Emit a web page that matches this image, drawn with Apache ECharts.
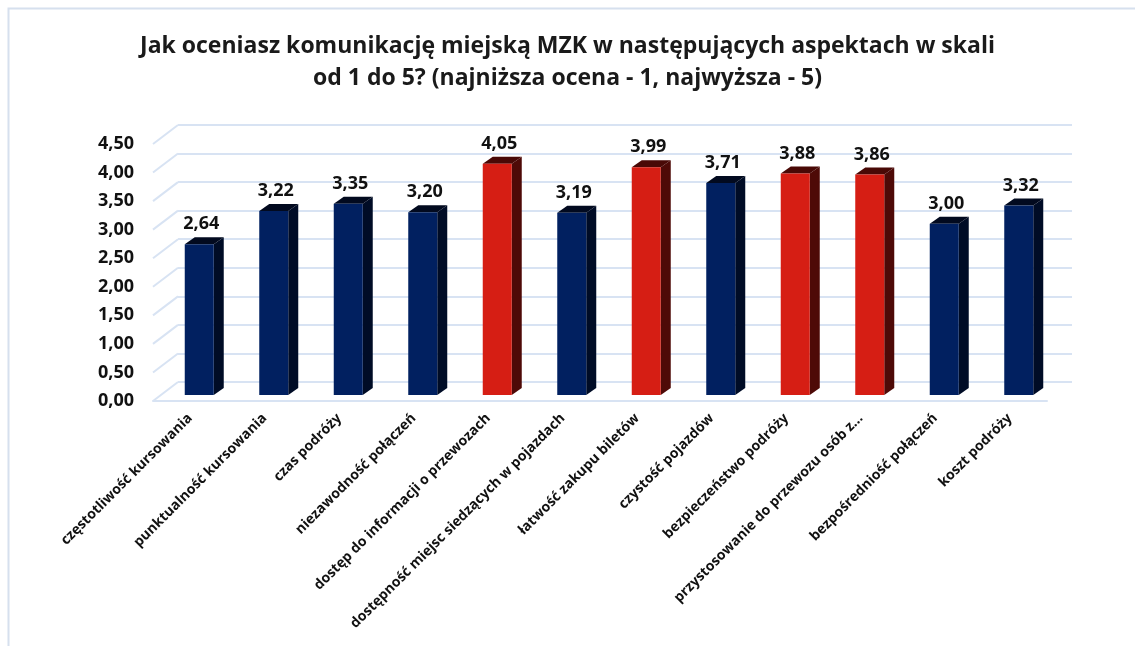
<!DOCTYPE html>
<html>
<head>
<meta charset="utf-8">
<script src="https://cdn.jsdelivr.net/npm/echarts@6.0.0/dist/echarts.min.js"></script>
<style>
  html, body { margin: 0; padding: 0; background: #fff; }
  #chart { width: 1135px; height: 646px; }
</style>
</head>
<body>
<div id="chart"></div>
<script>
// dane z wykresu
const categories = [
  'częstotliwość kursowania',
  'punktualność kursowania',
  'czas podróży',
  'niezawodność połączeń',
  'dostęp do informacji o przewozach',
  'dostępność miejsc siedzących w pojazdach',
  'łatwość zakupu biletów',
  'czystość pojazdów',
  'bezpieczeństwo podróży',
  'przystosowanie do przewozu osób z…',
  'bezpośredniość połączeń',
  'koszt podróży'
];
const values = [2.64, 3.22, 3.35, 3.20, 4.05, 3.19, 3.99, 3.71, 3.88, 3.86, 3.00, 3.32];
// najwyżej oceniane (wyróżnione na czerwono)
const topRated = [
  'dostęp do informacji o przewozach',
  'łatwość zakupu biletów',
  'bezpieczeństwo podróży',
  'przystosowanie do przewozu osób z…'
];
const yTicks = [0, 0.5, 1, 1.5, 2, 2.5, 3, 3.5, 4, 4.5];

const title = 'Jak oceniasz komunikację miejską MZK w następujących aspektach w skali\nod 1 do 5? (najniższa ocena - 1, najwyższa - 5)';
const FONT = '"Open Sans", sans-serif';
const GRID_COLOR = '#d8e3f3';
const fmt = v => v.toFixed(2).replace('.', ',');

const chart = echarts.init(document.getElementById('chart'));

// słupki "3D": przód, bok, wieko + etykieta
function renderBar(params, api) {
  const i = api.value(0);
  const v = api.value(1);
  const base = api.coord([i, 0]);
  const top = api.coord([i, v]);
  const w = 29, dx = 10, dy = 7;
  const x0 = base[0] - w / 2;
  const x1 = base[0] + w / 2;
  const hot = topRated.includes(categories[i]);
  const c = hot
    ? { front: '#d61e14', side: '#4e0a07', lid: '#490906' }
    : { front: '#012060', side: '#000c26', lid: '#020a1f' };
  return {
    type: 'group',
    children: [
      { type: 'polygon', shape: { points: [[x1, top[1]], [x1 + dx, top[1] - dy], [x1 + dx, base[1] - dy], [x1, base[1]]] }, style: { fill: c.side } },
      { type: 'polygon', shape: { points: [[x0, top[1]], [x0 + dx, top[1] - dy], [x1 + dx, top[1] - dy], [x1, top[1]]] }, style: { fill: c.lid } },
      { type: 'rect', shape: { x: x0, y: top[1], width: w, height: base[1] - top[1] }, style: { fill: c.front } },
      { type: 'text', x: base[0] + 2, y: top[1] - dy - 4,
        style: { text: fmt(v), fill: '#111', font: 'bold 18px ' + FONT, align: 'center', verticalAlign: 'bottom' } }
    ]
  };
}

// ukośne linie siatki po lewej stronie
function renderDiag(params, api) {
  const p = api.coord([0, api.value(1)]);
  return {
    type: 'line',
    shape: { x1: p[0], y1: p[1], x2: p[0] - 25, y2: p[1] + 19 },
    style: { stroke: GRID_COLOR, lineWidth: 2 }
  };
}

const option = {
  backgroundColor: '#fff',
  animation: false,
  title: {
    text: title,
    left: 'center',
    top: 25,
    textStyle: { fontFamily: FONT, fontSize: 23, fontWeight: 'bold', color: '#1a1a1a', lineHeight: 32 }
  },
  graphic: [
    { type: 'rect', shape: { x: 8.5, y: 8.5, width: 1200, height: 700 }, style: { fill: 'none', stroke: '#d6e0ee', lineWidth: 2 }, z: -1 }
  ],
  grid: [
    { left: 178, right: 63, top: 125, bottom: 264 },  // tylna ściana
    { left: 153, right: 88, top: 144, bottom: 245 },  // przód (osie)
    { left: 162, right: 79, top: 138, bottom: 251 }   // słupki
  ],
  xAxis: [
    { gridIndex: 0, type: 'value', min: 0, max: 1, show: false },
    {
      gridIndex: 1, type: 'category', data: categories,
      axisLine: { lineStyle: { color: GRID_COLOR, width: 2 } },
      axisTick: { show: false },
      axisLabel: { interval: 0, rotate: 45, margin: 15, color: '#111', fontFamily: FONT, fontSize: 14, fontWeight: 'bold' }
    },
    { gridIndex: 2, type: 'category', data: categories, show: false }
  ],
  yAxis: [
    {
      gridIndex: 0, type: 'value', min: 0, max: 4.5, interval: 0.5,
      axisLine: { show: false }, axisTick: { show: false }, axisLabel: { show: false },
      splitLine: { lineStyle: { color: GRID_COLOR, width: 2 } }
    },
    {
      gridIndex: 1, type: 'value', min: 0, max: 4.5, interval: 0.5,
      axisLine: { show: false }, axisTick: { show: false }, splitLine: { show: false },
      axisLabel: { margin: 19, color: '#111', fontFamily: FONT, fontSize: 18, fontWeight: 'bold', formatter: fmt }
    },
    { gridIndex: 2, type: 'value', min: 0, max: 4.5, show: false }
  ],
  series: [
    {
      type: 'custom', xAxisIndex: 0, yAxisIndex: 0, silent: true,
      renderItem: renderDiag,
      data: yTicks.map(t => [0, t])
    },
    {
      type: 'custom', xAxisIndex: 2, yAxisIndex: 2,
      renderItem: renderBar,
      data: values.map((v, i) => [i, v])
    }
  ]
};

chart.setOption(option);
window.addEventListener('resize', () => chart.resize());
</script>
</body>
</html>
